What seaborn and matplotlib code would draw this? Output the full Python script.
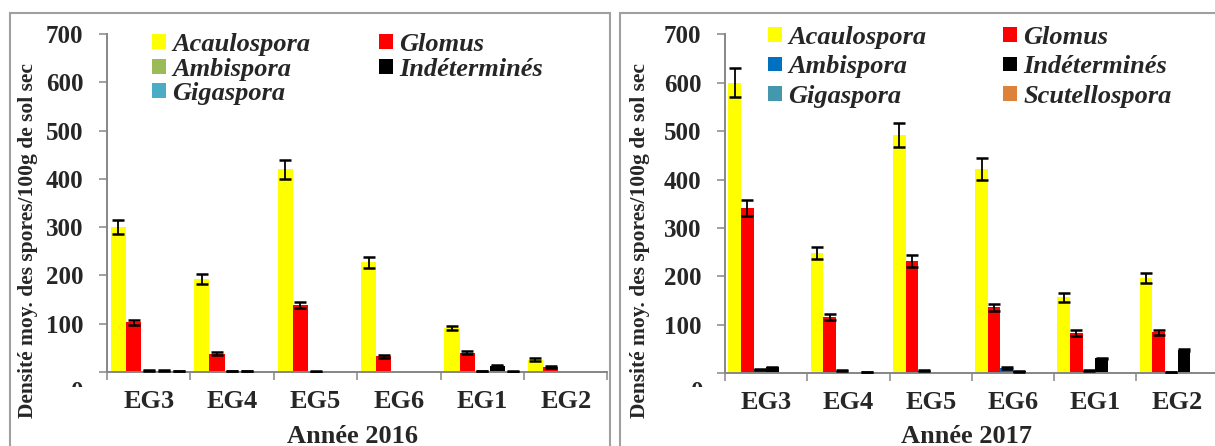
import numpy as np
import pandas as pd
import matplotlib
matplotlib.use("Agg")
import matplotlib.pyplot as plt
from matplotlib.patches import Rectangle
from matplotlib.transforms import Bbox
import seaborn as sns

# Sites (ordre de l'axe x)
sites = ["EG3", "EG4", "EG5", "EG6", "EG1", "EG2"]

# Année 2016 : densités moyennes et erreurs
genres_2016 = ["Acaulospora", "Glomus", "Ambispora", "Indéterminés", "Gigaspora"]
acaulo_2016 = [300, 192, 420, 227, 91, 25]
acaulo_2016_err = [14, 10, 20, 11, 5, 3]
glomus_2016 = [103, 38, 139, 33, 40, 11]
glomus_2016_err = [5, 3, 7, 3, 3, 2]
ambis_2016 = [3, 2, 1, 0, 2, 0]
ambis_2016_err = [1, 0.5, 0.5, 0, 0.5, 0]
indet_2016 = [3, 2, 0.5, 0, 13, 0]
indet_2016_err = [1, 0.5, 0, 0, 1.5, 0]
giga_2016 = [2, 0, 0, 0, 1, 0]
giga_2016_err = [0.5, 0, 0, 0, 0.5, 0]

# Année 2017
genres_2017 = ["Acaulospora", "Glomus", "Ambispora", "Indéterminés", "Gigaspora", "Scutellospora"]
acaulo_2017 = [600, 248, 492, 422, 157, 197]
acaulo_2017_err = [30, 12, 25, 22, 9, 10]
glomus_2017 = [341, 116, 232, 136, 83, 85]
glomus_2017_err = [17, 6, 12, 7, 6, 5]
ambis_2017 = [8, 5, 5, 11, 5, 3]
ambis_2017_err = [1, 1, 1, 1.5, 1, 0.5]
indet_2017 = [12, 0, 1, 4, 31, 48]
indet_2017_err = [1.5, 0, 0, 0.5, 1, 1.5]
giga_2017 = [0, 3, 0, 0, 0, 0]
giga_2017_err = [0, 0.5, 0, 0, 0, 0]
scut_2017 = [0, 0, 0, 0, 0, 0]
scut_2017_err = [0, 0, 0, 0, 0, 0]

colors_2016 = ["#FFFF00", "#FF0000", "#9BBB59", "#000000", "#4BACC6"]
colors_2017 = ["#FFFF00", "#FF0000", "#0070C0", "#000000", "#4398AE", "#DD823B"]

series_2016 = [(acaulo_2016, acaulo_2016_err), (glomus_2016, glomus_2016_err),
               (ambis_2016, ambis_2016_err), (indet_2016, indet_2016_err),
               (giga_2016, giga_2016_err)]
series_2017 = [(acaulo_2017, acaulo_2017_err), (glomus_2017, glomus_2017_err),
               (ambis_2017, ambis_2017_err), (indet_2017, indet_2017_err),
               (giga_2017, giga_2017_err), (scut_2017, scut_2017_err)]


def make_table(genres, series):
    rows = []
    for g, (vals, errs) in zip(genres, series):
        for s, v, e in zip(sites, vals, errs):
            rows.append({"Site": s, "Genre": g, "Densite": v, "Err": e})
    return pd.DataFrame(rows)


sns.set_style("white")
plt.rcParams["font.family"] = ["Liberation Serif", "DejaVu Serif"]
plt.rcParams["font.weight"] = "bold"

W, H = 1215, 446
fig = plt.figure(figsize=(W / 100, H / 100), dpi=100)

GRAY = "#868686"


def fx(px):
    return px / W


def fy(py):
    # py mesuré depuis le haut de l'image
    return 1 - py / H


def plot_panel(ax, genres, series, colors, width, year, ylab_x, zero_x, leg_xy, leg_sp, colsp):
    df = make_table(genres, series)
    sns.barplot(data=df, x="Site", y="Densite", hue="Genre", order=sites,
                hue_order=genres, palette=colors, width=width, saturation=1,
                errorbar=None, ax=ax, linewidth=0)

    # barres d'erreur posées sur les barres dessinées
    for cont, (vals, errs) in zip(ax.containers, series):
        xs, ys, es = [], [], []
        for bar, e in zip(cont.patches, errs):
            if e > 0:
                xs.append(bar.get_x() + bar.get_width() / 2)
                ys.append(bar.get_height())
                es.append(e)
        if xs:
            ax.errorbar(xs, ys, yerr=es, fmt="none", ecolor="black",
                        elinewidth=1.3, capsize=4.3, capthick=1.8, zorder=5)

    ax.set_ylim(0, 700)
    ax.set_xlim(-0.5, len(sites) - 0.5)
    sns.despine(ax=ax)
    for sp in ["left", "bottom"]:
        ax.spines[sp].set_color(GRAY)
        ax.spines[sp].set_linewidth(1.4)

    ax.set_yticks(np.arange(0, 701, 100))
    ax.set_yticklabels([""] + [str(v) for v in range(100, 701, 100)])
    ax.tick_params(axis="y", length=6, width=1.1, color=GRAY, pad=11,
                   labelsize=18, left=True)

    ax.set_xticks(np.arange(-0.5, len(sites), 1))
    ax.set_xticklabels([])
    ax.set_xticks(np.arange(len(sites)), minor=True)
    ax.set_xticklabels(sites, minor=True)
    ax.tick_params(axis="x", which="major", length=6, width=1.1, color=GRAY, bottom=True)
    ax.tick_params(axis="x", which="minor", length=0, pad=13, labelsize=19)

    ax.set_ylabel("Densité moy. des spores/100g de sol sec", fontsize=15.5, fontweight="bold")
    ax.yaxis.set_label_coords(fx(ylab_x), fy(241), transform=fig.transFigure)
    ax.set_xlabel(year, fontsize=19, fontweight="bold")
    x0, x1 = ax.get_position().x0, ax.get_position().x1
    ax.xaxis.set_label_coords((x0 + x1) / 2 - fx(5), fy(425), transform=fig.transFigure)

    # le "0" d'Excel, coupé par l'axe des x
    t = fig.text(fx(zero_x), fy(381), "0", fontsize=18, fontweight="bold",
                 ha="center", va="top")
    t.set_clip_box(Bbox([[0, H - 387], [W, H]]))
    t.set_clip_on(True)

    # légende remplie ligne par ligne comme dans Excel
    old = ax.get_legend()
    handles = list(old.legend_handles)
    labels = [tx.get_text() for tx in old.texts]
    order = list(range(0, len(labels), 2)) + list(range(1, len(labels), 2))
    ax.legend([handles[i] for i in order], [labels[i] for i in order],
              ncol=2, frameon=False, loc="upper left",
              bbox_to_anchor=(fx(leg_xy[0]), fy(leg_xy[1])),
              bbox_transform=fig.transFigure, borderpad=0, borderaxespad=0,
              handlelength=0.52, handleheight=0.48, handletextpad=0.25,
              labelspacing=leg_sp, columnspacing=colsp,
              prop={"size": 19, "weight": "bold", "style": "italic"})


ax1 = fig.add_axes([fx(107), fy(372), fx(6 * 83.4), (372 - 34) / H])
plot_panel(ax1, genres_2016, series_2016, colors_2016, 0.91, "Année 2016",
           38, 77, (152, 33), 0.06, 2.6)

ax2 = fig.add_axes([fx(725), fy(373.3), fx(6 * 82.3), (373.3 - 34.3) / H])
plot_panel(ax2, genres_2017, series_2017, colors_2017, 0.92, "Année 2017",
           650, 697, (768, 26), 0.24, 2.9)

# cadres gris des deux graphiques
for x0, x1 in [(10, 609.5), (620, 1240)]:
    fig.patches.append(Rectangle((fx(x0), fy(470)), fx(x1 - x0), (470 - 13.3) / H,
                                 transform=fig.transFigure, fill=False,
                                 edgecolor="#A0A0A0", linewidth=1.5, zorder=0))

fig.savefig("out.png", dpi=100)
